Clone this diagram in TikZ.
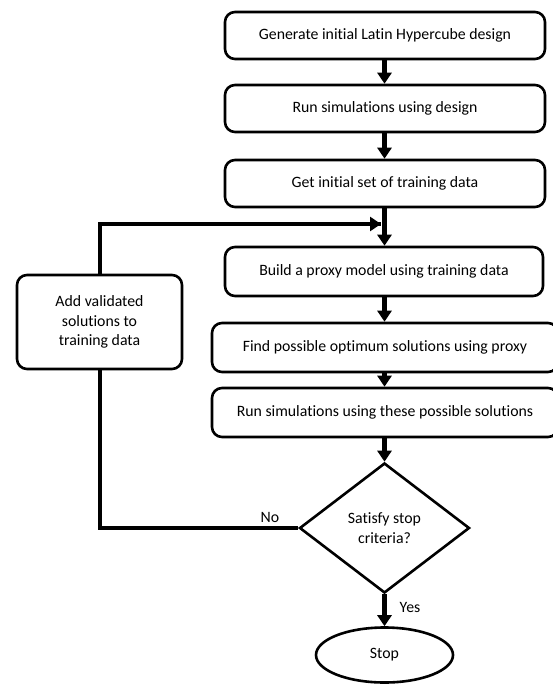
\documentclass[tikz,border=0pt]{standalone}
\usepackage{fontspec}
\setmainfont[Ligatures=NoCommon]{Carlito}
\usetikzlibrary{arrows.meta,positioning,shapes.geometric}

\begin{document}
\begin{tikzpicture}[x=1pt,y=-1pt,
    every node/.append style={font=\fontsize{15.8}{19.5}\selectfont, align=center},
    procbox/.style={draw, line width=2.6pt, rounded corners=10pt, fill=white, minimum height=47pt},
    flow/.style={line width=4.5pt, -{Triangle[width=14pt,length=11pt]}},
    link/.style={line width=4.5pt}]
    \useasboundingbox (0,0) rectangle (553,684);
    \clip (0,0) rectangle (553,684);
    \coordinate (axis) at (384.5,0);
    % main column
    \node[procbox, minimum width=320pt] (gen) at (385,35.5) {Generate initial Latin Hypercube design};
    \node[procbox, minimum width=320pt] (runA) at (385,108.5) {Run simulations using design};
    \node[procbox, minimum width=320pt] (init) at (385,183.5) {Get initial set of training data};
    \node[procbox, minimum width=318pt, minimum height=49pt] (proxy) at (384,271.5) {Build a proxy model using training data};
    \node[procbox, minimum width=346pt, minimum height=49pt] (optim) at (385,347.5) {Find possible optimum solutions using proxy};
    \node[procbox, minimum width=346pt, minimum height=49pt] (runB) at (385,412.5) {Run simulations using these possible solutions};
    \node[draw, diamond, line width=2.6pt, minimum width=170pt, minimum height=130pt, inner sep=0pt] (crit) at (384.5,528) {Satisfy stop\\criteria?};
    \node[draw, ellipse, line width=2.6pt, minimum width=137pt, minimum height=55pt] (stop) at (384.5,655) {Stop};
    % feedback branch
    \coordinate (corner) at (100,528);
    \coordinate (top) at (100,224);
    \coordinate (join) at (381,224);
    \draw[link] (crit.west) -- (corner) -- (top) -- (join);
    \draw[flow] (top) -- (join);
    \node[procbox, minimum width=165pt, minimum height=94pt] (addsol) at (99.5,322) {Add validated\\solutions to\\training data};
    % arrows
    \draw[flow] (gen.south -| axis) -- (runA.north -| axis);
    \draw[flow] (runA.south -| axis) -- (init.north -| axis);
    \draw[flow] (init.south -| axis) -- (proxy.north -| axis);
    \draw[flow] (proxy.south -| axis) -- (optim.north -| axis);
    \draw[flow] (optim.south -| axis) -- (runB.north -| axis);
    \draw[flow] (runB.south -| axis) -- (crit.north);
    \draw[flow] (crit.south) -- (stop.north);
    \node (no) at (270,517) {No};
    \node (yes) at (410,607) {Yes};
\end{tikzpicture}
\end{document}
